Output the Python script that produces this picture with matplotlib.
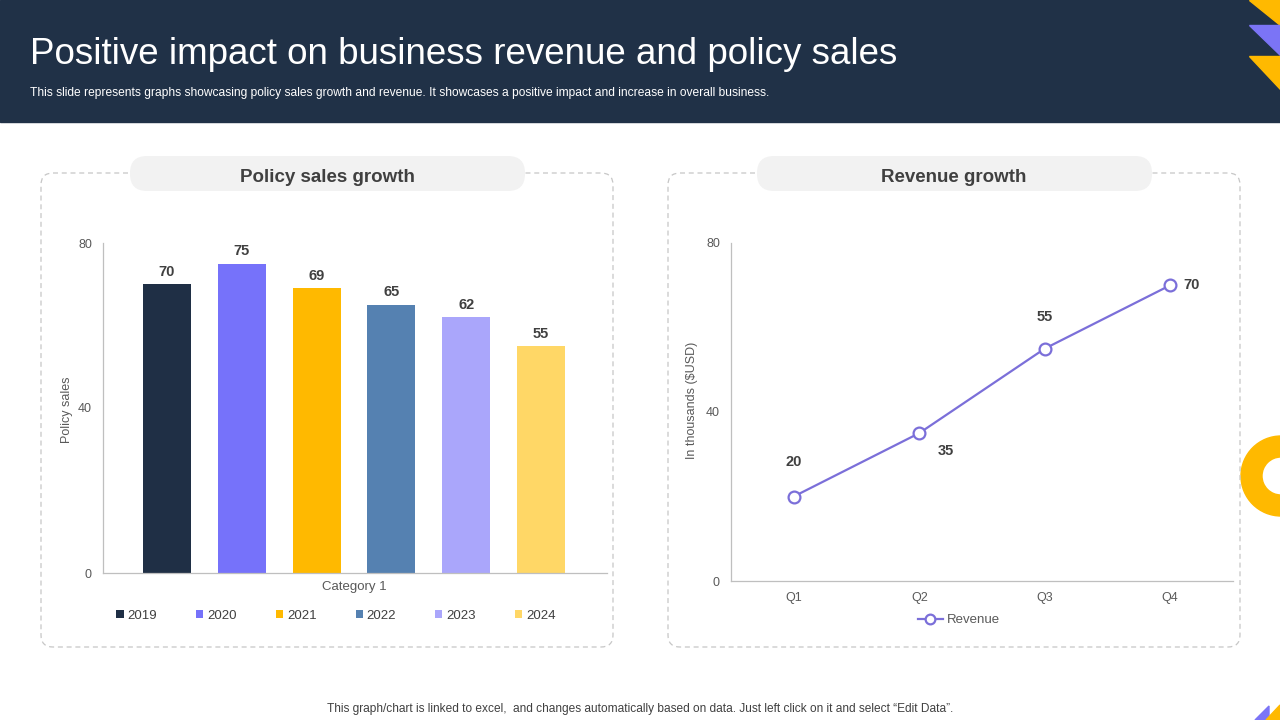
import matplotlib
matplotlib.use("Agg")
import matplotlib.pyplot as plt
from matplotlib.patches import FancyBboxPatch, Polygon, Wedge, Rectangle
from matplotlib.lines import Line2D

plt.rcParams['font.family'] = ['Liberation Sans', 'DejaVu Sans']

# data
years = ['2019', '2020', '2021', '2022', '2023', '2024']
policy_sales = [70, 75, 69, 65, 62, 55]
bar_colors = ['#1f2f45', '#7672fa', '#ffb900', '#5581b1', '#aaa6fb', '#ffd766']

quarters = ['Q1', 'Q2', 'Q3', 'Q4']
revenue = [20, 35, 55, 70]

navy = '#203147'
yellow = '#ffb900'
purple = '#7b74f6'
txt = '#404040'
tick_c = '#595959'

fig = plt.figure(figsize=(12.8, 7.2), dpi=100)

# canvas in pixel coordinates
cv = fig.add_axes([0, 0, 1, 1])
cv.set_xlim(0, 1280)
cv.set_ylim(720, 0)
cv.axis('off')

cv.add_patch(Rectangle((0, 0), 1280, 122, color=navy, zorder=1))
cv.text(30, 54, 'Positive impact on business revenue and policy sales', color='white',
        fontsize=26.5, va='center', ha='left', zorder=3)
cv.text(30, 93, 'This slide represents graphs showcasing policy sales growth and revenue. '
        'It showcases a positive impact and increase in overall business.',
        color='white', fontsize=8.65, va='center', ha='left', zorder=3)

# corner shapes
cv.add_patch(Polygon([(1249, 0), (1280, 0), (1280, 25)], color=yellow, zorder=2))
cv.add_patch(Polygon([(1249, 25), (1280, 25), (1280, 55)], color=purple, zorder=2))
cv.add_patch(Polygon([(1249, 56), (1280, 56), (1280, 89)], color=yellow, zorder=2))
cv.add_patch(Polygon([(1255, 720), (1269, 706), (1269, 720)], color=purple, zorder=2))
cv.add_patch(Polygon([(1266, 720), (1280, 705), (1280, 720)], color=yellow, zorder=2))
cv.add_patch(Wedge((1281, 476), 40, 0, 360, width=21, color=yellow, zorder=2))

# panels
for x0, title in [(41, 'Policy sales growth'), (668, 'Revenue growth')]:
    cv.add_patch(FancyBboxPatch((x0, 173), 572, 474,
                                boxstyle='round,pad=0,rounding_size=12',
                                fill=False, ec='#c6c6c6', lw=0.9, ls=(0, (4, 3)), zorder=2))
    cv.add_patch(FancyBboxPatch((x0 + 89, 156), 395, 35,
                                boxstyle='round,pad=0,rounding_size=17',
                                fc='#f2f2f2', ec='none', zorder=3))
    cv.text(x0 + 286, 177, title, fontsize=13.5, fontweight='bold', color=txt,
            ha='center', va='center', zorder=4)

cv.text(640, 709, 'This graph/chart is linked to excel,  and changes automatically based on data. '
        'Just left click on it and select \u201cEdit Data\u201d.',
        fontsize=8.55, color=txt, ha='center', va='center')

# left chart: bars
ax1 = fig.add_axes([103 / 1280, (720 - 573) / 720, 504 / 1280, 330 / 720])
ax1.patch.set_alpha(0)
handles = []
for i, (y, v, c) in enumerate(zip(years, policy_sales, bar_colors)):
    b = ax1.bar(i, v, width=0.64, color=c, label=y)
    handles.append(b)
    ax1.annotate(str(v), (i, v), xytext=(0, 9), textcoords='offset points',
                 ha='center', va='center', fontsize=10.5, fontweight='bold', color=txt)
ax1.set_xlim(-0.853, 5.88)
ax1.set_ylim(0, 80)
ax1.set_yticks([0, 40, 80])
ax1.set_xticks([2.5])
ax1.set_xticklabels(['Category 1'])
for s in ['top', 'right']:
    ax1.spines[s].set_visible(False)
for s in ['left', 'bottom']:
    ax1.spines[s].set_color('#bfbfbf')
    ax1.spines[s].set_linewidth(0.9)
ax1.tick_params(length=0, labelsize=9, labelcolor=tick_c)
ax1.tick_params(axis='y', pad=8)
ax1.tick_params(axis='x', pad=6, labelsize=9.5)
ax1.set_ylabel('Policy sales', fontsize=9, color=tick_c)
ax1.yaxis.set_label_coords((73 - 103) / 504, (573 - 410) / 330)
fig.legend(handles=handles, labels=years, loc='center', bbox_to_anchor=(336 / 1280, 104 / 720),
           ncol=6, frameon=False, fontsize=9.5, handlelength=0.55, handleheight=0.55,
           handletextpad=0.3, columnspacing=2.95, labelcolor=txt)

# right chart: line
ax2 = fig.add_axes([731 / 1280, (720 - 581) / 720, 502 / 1280, 338 / 720])
ax2.patch.set_alpha(0)
line_c = '#7b6fd9'
xq = list(range(len(quarters)))
ax2.plot(xq, revenue, color=line_c, lw=1.6, marker='o', markersize=8.5,
         markerfacecolor='white', markeredgecolor=line_c, markeredgewidth=1.6,
         label='Revenue', zorder=3)
offsets = [(0, 25), (19, -13), (0, 23), (15, 0)]
for x, v, off in zip(xq, revenue, offsets):
    ax2.annotate(str(v), (x, v), xytext=off, textcoords='offset points',
                 ha='center', va='center', fontsize=10.5, fontweight='bold', color=txt)
ax2.set_xlim(-0.5, 3.5)
ax2.set_ylim(0, 80)
ax2.set_yticks([0, 40, 80])
ax2.set_xticks(xq)
ax2.set_xticklabels(quarters)
for s in ['top', 'right']:
    ax2.spines[s].set_visible(False)
for s in ['left', 'bottom']:
    ax2.spines[s].set_color('#bfbfbf')
    ax2.spines[s].set_linewidth(0.9)
ax2.tick_params(length=0, labelsize=9, labelcolor=tick_c)
ax2.tick_params(axis='y', pad=8)
ax2.tick_params(axis='x', pad=8)
ax2.set_ylabel('In thousands ($USD)', fontsize=9, color=tick_c)
ax2.yaxis.set_label_coords((698 - 731) / 502, (581 - 400) / 338)
fig.legend(handles=[Line2D([0], [0], color=line_c, lw=1.6, marker='o', markersize=7,
                           markerfacecolor='white', markeredgecolor=line_c, markeredgewidth=1.6)],
           labels=['Revenue'], loc='center', bbox_to_anchor=(959 / 1280, 100 / 720),
           frameon=False, fontsize=9.5, handlelength=1.9, handletextpad=0.3, labelcolor=tick_c)

fig.savefig('out.png', dpi=100)
